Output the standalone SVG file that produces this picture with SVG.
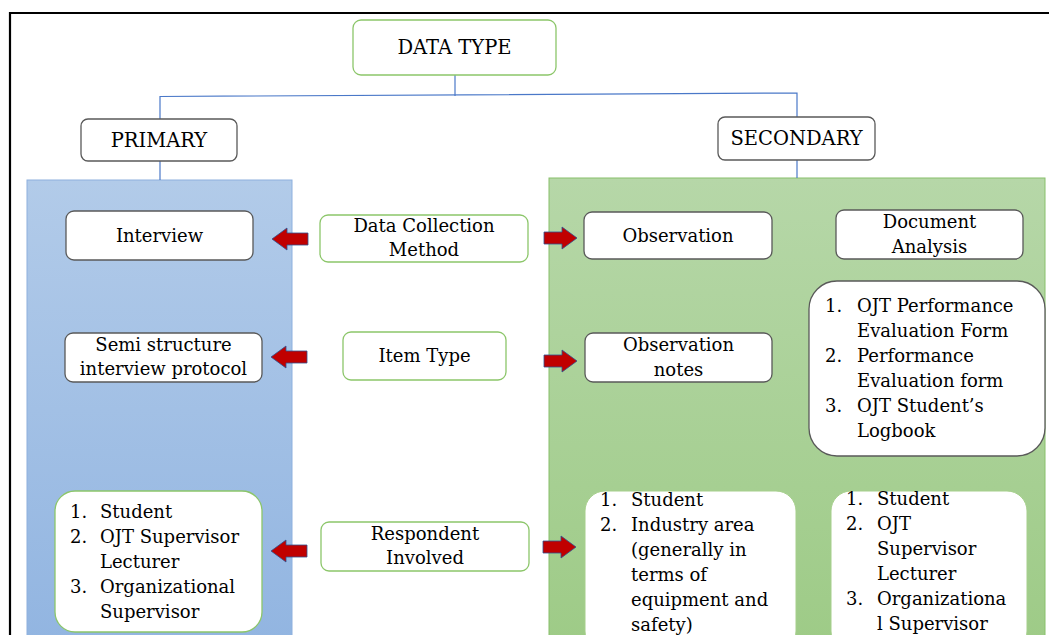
<svg xmlns="http://www.w3.org/2000/svg" width="1049" height="635" viewBox="0 0 1049 635">
<defs>
<linearGradient id="gBlue" x1="0" y1="0" x2="0" y2="1"><stop offset="0" stop-color="#b2cbe9"/><stop offset="1" stop-color="#92b5e1"/></linearGradient>
<linearGradient id="gGreen" x1="0" y1="0" x2="0" y2="1"><stop offset="0" stop-color="#b6d7a8"/><stop offset="1" stop-color="#9ecb87"/></linearGradient>
<path id="arrL" d="M0,0 L15,-11 L15,-6 L36,-6 L36,6 L15,6 L15,11 Z"/>
<path id="arrR" d="M0,-6 L18,-6 L18,-11 L33,0 L18,11 L18,6 L0,6 Z"/>
</defs>
<style>
text{font-family:"DejaVu Serif","Liberation Serif",serif;font-size:18px;fill:#000}
.c{text-anchor:middle}
.h{font-size:19.5px}
.wd{fill:#fff;stroke:#595959;stroke-width:1.3}
.wg{fill:#fff;stroke:#8cc66a;stroke-width:1.3}
.con{fill:none;stroke:#4a78c8;stroke-width:1.2}
.arr{fill:#c00000;stroke:#2f528f;stroke-width:0.8}
</style>
<rect width="1049" height="635" fill="#fff"/>
<path d="M10,635 V13 H1049" fill="none" stroke="#000" stroke-width="2.2"/>
<g id="panel-primary"><rect x="27" y="180" width="265" height="460" fill="url(#gBlue)" stroke="#8db0de" stroke-width="1"/></g>
<g id="panel-secondary"><rect x="549" y="178" width="496" height="462" fill="url(#gGreen)" stroke="#88c06a" stroke-width="1"/></g>
<g id="connectors">
<path class="con" d="M455,75 V96"/>
<path class="con" d="M160,119 V96.5 L797,93 V117"/>
<path class="con" d="M160,161 V180"/>
<path class="con" d="M797,160 V178"/>
<use href="#arrL" class="arr" x="272" y="239"/>
<use href="#arrL" class="arr" x="271" y="357"/>
<use href="#arrL" class="arr" x="271" y="551"/>
<use href="#arrR" class="arr" x="544" y="238"/>
<use href="#arrR" class="arr" x="544" y="361"/>
<use href="#arrR" class="arr" x="543" y="547"/>
</g>
<g id="data-type"><rect class="wg" x="353" y="20" width="203" height="55" rx="8"/><text class="c h" x="454.5" y="54">DATA TYPE</text></g>
<g id="primary"><rect class="wd" x="81" y="119" width="156" height="42" rx="7"/><text class="c h" x="159" y="147">PRIMARY</text></g>
<g id="secondary"><rect class="wd" x="718" y="117" width="157" height="43" rx="7"/><text class="c h" x="796.5" y="145">SECONDARY</text></g>
<g id="interview"><rect class="wd" x="66" y="211" width="187" height="49" rx="8"/><text class="c" x="159.5" y="242">Interview</text></g>
<g id="semi"><rect class="wd" x="65" y="333" width="197" height="49" rx="8"/><text class="c" x="163.5" y="351">Semi structure</text><text class="c" x="163.5" y="375">interview protocol</text></g>
<g id="resp-primary"><rect class="wg" x="55" y="491" width="207" height="141" rx="20"/>
<text x="70" y="518">1.</text><text x="100" y="518">Student</text>
<text x="70" y="543">2.</text><text x="100" y="543">OJT Supervisor</text>
<text x="100" y="568">Lecturer</text>
<text x="70" y="593">3.</text><text x="100" y="593">Organizational</text>
<text x="100" y="618">Supervisor</text></g>
<g id="dcm"><rect class="wg" x="320" y="215" width="208" height="47" rx="8"/><text class="c" x="424" y="232">Data Collection</text><text class="c" x="424" y="256">Method</text></g>
<g id="item-type"><rect class="wg" x="343" y="332" width="163" height="48" rx="8"/><text class="c" x="424.5" y="362">Item Type</text></g>
<g id="respondent"><rect class="wg" x="321" y="522" width="208" height="49" rx="8"/><text class="c" x="425" y="540">Respondent</text><text class="c" x="425" y="564">Involved</text></g>
<g id="observation"><rect class="wd" x="584" y="212" width="188" height="47" rx="8"/><text class="c" x="678" y="242">Observation</text></g>
<g id="doc-analysis"><rect class="wd" x="836" y="210" width="187" height="49" rx="8"/><text class="c" x="929.5" y="228">Document</text><text class="c" x="929.5" y="253">Analysis</text></g>
<g id="obs-notes"><rect class="wd" x="585" y="333" width="187" height="49" rx="8"/><text class="c" x="678.5" y="351">Observation</text><text class="c" x="678.5" y="376">notes</text></g>
<g id="doc-list"><rect class="wd" x="809" y="281" width="236" height="175" rx="28"/>
<text x="825" y="312">1.</text><text x="857" y="312">OJT Performance</text>
<text x="857" y="337">Evaluation Form</text>
<text x="825" y="362">2.</text><text x="857" y="362">Performance</text>
<text x="857" y="387">Evaluation form</text>
<text x="825" y="412">3.</text><text x="857" y="412">OJT Student’s</text>
<text x="857" y="437">Logbook</text></g>
<g id="resp-obs"><rect x="585" y="491" width="211" height="160" rx="20" fill="#fff" stroke="#a6cf8c" stroke-width="1"/>
<text x="600" y="506">1.</text><text x="631" y="506">Student</text>
<text x="600" y="531">2.</text><text x="631" y="531">Industry area</text>
<text x="631" y="556">(generally in</text>
<text x="631" y="581">terms of</text>
<text x="631" y="606">equipment and</text>
<text x="631" y="631">safety)</text></g>
<g id="resp-doc"><rect x="831" y="491" width="196" height="160" rx="20" fill="#fff" stroke="#a6cf8c" stroke-width="1"/>
<text x="846" y="505">1.</text><text x="877" y="505">Student</text>
<text x="846" y="530">2.</text><text x="877" y="530">OJT</text>
<text x="877" y="555">Supervisor</text>
<text x="877" y="580">Lecturer</text>
<text x="846" y="605">3.</text><text x="877" y="605">Organizationa</text>
<text x="877" y="630">l Supervisor</text></g>
</svg>
